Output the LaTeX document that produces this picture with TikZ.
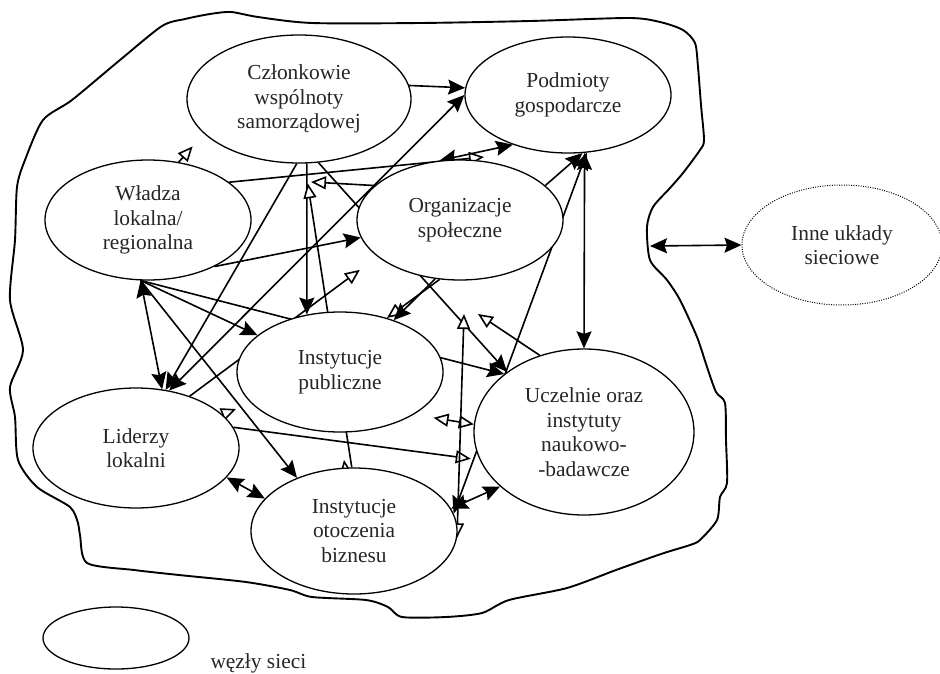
\documentclass[tikz,border=0pt]{standalone}
\usepackage{fontspec}
\setmainfont{Liberation Serif}
\usetikzlibrary{arrows.meta,shapes.geometric}
\pgfdeclarelayer{bg}
\pgfsetlayers{bg,main}
\begin{document}
\begin{tikzpicture}[x=1pt,y=-1pt,
  netnode/.style={ellipse,draw,line width=1.3pt,fill=white,inner sep=0pt,
    align=center,text=black!85,font=\fontsize{21.4}{24.5}\selectfont},
  link/.style={line width=1.6pt},
  fhead/.tip={Stealth[length=17pt,width=15pt,inset=2.5pt]},
  ohead/.tip={Triangle[open,length=15pt,width=13pt,fill=white]},
  fa/.style={link,-fhead},
  fafa/.style={link,fhead-fhead},
  oa/.style={link,-ohead},
  oaoa/.style={link,ohead-ohead},
  blob/.style={line width=1.9pt,line join=round}
]
\useasboundingbox (0,0) rectangle (940,673);

% network nodes
\node[netnode,minimum width=224pt,minimum height=128pt] (cz) at (299,99) {Członkowie\\wspólnoty\\samorządowej};
\node[netnode,minimum width=206pt,minimum height=116pt] (pod) at (568,95) {Podmioty\\gospodarcze};
\node[netnode,minimum width=206pt,minimum height=120pt] (wl) at (148,220) {Władza\\lokalna/\\regionalna};
\node[netnode,minimum width=206pt,minimum height=120pt] (org) at (460,220) {Organizacje\\społeczne};
\node[netnode,minimum width=206pt,minimum height=120pt] (ip) at (340,372) {Instytucje\\publiczne};
\node[netnode,minimum width=206pt,minimum height=120pt] (lid) at (136,448) {Liderzy\\lokalni};
\node[netnode,minimum width=206pt,minimum height=126pt] (iob) at (354,531) {Instytucje\\otoczenia\\biznesu};
\node[netnode,minimum width=220pt,minimum height=166pt] (ucz) at (584,432) {Uczelnie oraz\\instytuty\\naukowo-\\-badawcze};

% other network (dotted) and legend
\node[netnode,dash pattern=on 1pt off 1.4pt,line width=1pt,minimum width=200pt,minimum height=120pt] (inne) at (842,245) {Inne układy\\sieciowe};
\node[netnode,minimum width=146pt,minimum height=62pt] (leg) at (116,638) {};
\node[anchor=base west,text=black!85,font=\fontsize{21.4}{24.5}\selectfont] (legt) at (207,668) {węzły sieci};

% free ends of short arrows
\coordinate (czin) at (311,182);
\coordinate (podin) at (484,157);
\coordinate (uczin) at (478,314);
\coordinate (orgin) at (464,314);
\coordinate (lidout) at (236,409);
\coordinate (iobout) at (344,460);
\coordinate (blobpt) at (650,246);

\begin{pgfonlayer}{bg}
% boundary of the network
\draw[blob] plot[smooth cycle,tension=0.45] coordinates {
 (162,26) (185,19) (210,14) (231,12) (258,17) (312,23) (420,23) (530,21)
 (629,18) (660,22) (683,30) (695,43) (698,67) (701,105) (704,140) (700,150)
 (683,173) (670,188) (653,207) (647,227) (650,260) (667,280) (680,300)
 (697,337) (707,367) (716,392) (725,403) (726,440) (727,483) (720,497)
 (717,520) (700,540) (690,545) (661,554) (616,570) (567,588) (509,600)
 (482,613) (446,617) (402,617) (388,607) (366,600) (312,597) (290,590)
 (246,582) (179,575) (134,570) (87,563) (80,535) (78,523) (70,507)
 (37,487) (18,460) (15,417) (10,387) (23,350) (10,300) (15,240) (17,187)
 (25,160) (43,120) (72,100) (120,60)};

% connectors
\draw[fa] (cz.7) -- (pod.176);
\draw[fafa] (lid.60) -- (pod.180);
\draw[fa] (cz.268) -- (lid.63);
\draw[fa] (cz.277) -- (ip.120);
\draw[oa,shorten >=20pt] (iob.92) -- (cz.275);
\draw[oa] (org.158) -- (czin);
\draw[oa,shorten >=17pt] (wl.62) -- (cz.200);
\draw[oa] (wl.25) -- (podin);
\draw[fafa] (org.109) -- (pod.222);
\draw[fa] (wl.325) -- (org.190);
\draw[fafa] (wl.263) -- (lid.66);
\draw[fa] (wl.263) -- (ip.156);
\draw[fa] (wl.263) -- (iob.137);
\draw[fa] (wl.263) -- (ucz.144);
\draw[fa] (cz.287) -- (ucz.142);
\draw[oa,shorten >=22pt] (lid.44) -- (org.204);
\draw[oa,shorten >=9pt] (lid.12) -- (ucz.195);
\draw[fafa] (lid.342) -- (iob.160);
\draw[oa] (org.251) -- (ip.49);
\draw[fa] (org.247) -- (ip.44);
\draw[oaoa,shorten <=20pt] (ip.330) -- (ucz.176);
\draw[oa] (ucz.120) -- (uczin);
\draw[oaoa] (iob.356) -- (orgin);
\draw[fafa] (pod.288) -- (iob.10);
\draw[fafa] (ucz.213) -- (iob.13);
\draw[fa] (org.22) -- (pod.284);
\draw[fafa] (pod.286) -- (ucz.90);
\draw[oa] (lid) -- (lidout);
\draw[oa] (iob) -- (iobout);
\draw[fafa] (blobpt) -- (inne.west);
\end{pgfonlayer}
\end{tikzpicture}
\end{document}
